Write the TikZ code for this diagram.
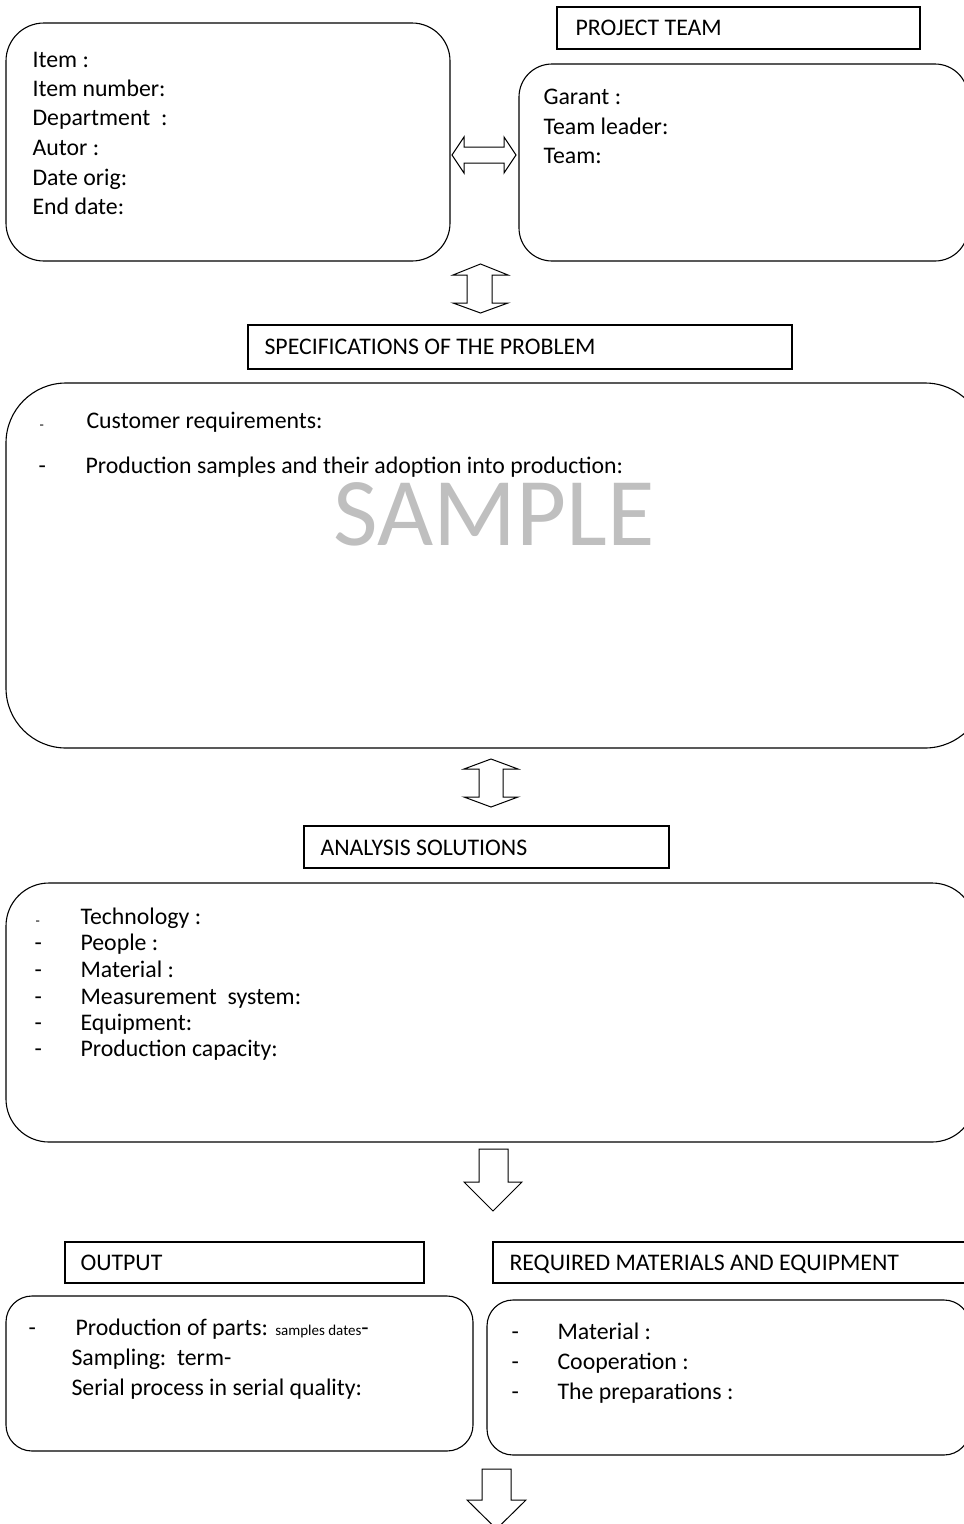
\documentclass[tikz,border=0pt]{standalone}
\usepackage{fontspec}
\setmainfont{Carlito}
\begin{document}
\begin{tikzpicture}[x=1pt,y=-1pt,
  line width=1.1pt,
  hbox/.style={draw, rectangle, inner sep=0pt},
  rbox/.style={draw, rectangle, inner sep=0pt},
  txt/.style={anchor=west, inner sep=0pt, yshift=-4.5pt, font=\fontsize{23.8}{28}\selectfont, text height=0.8em, text depth=0.2em},
  sdash/.style={anchor=west, inner sep=0pt, yshift=-4.5pt, font=\fontsize{14}{16}\selectfont, text height=0.8em, text depth=0.2em},
  blk/.style={draw, fill=white, line width=1pt, line join=miter}
]
\useasboundingbox (0,0) rectangle (964,1524);
\clip (0,0) rectangle (964,1524);

% ---------- row 1 ----------
\node[hbox, minimum width=363pt, minimum height=42pt] (pt) at (738.5,28) {};
\node[txt] (ptt) at (575,28) {PROJECT TEAM};

\node[rbox, rounded corners=38pt, minimum width=444pt, minimum height=238pt] (info) at (228,142) {};
\node[txt] (i1) at (32,60) {Item :};
\node[txt] (i2) at (32,89) {Item number:};
\node[txt] (i3) at (32,118) {Department\ \ :};
\node[txt] (i4) at (32,148) {Autor :};
\node[txt] (i5) at (32,178) {Date orig:};
\node[txt] (i6) at (32,207) {End date:};

\node[rbox, rounded corners=33pt, minimum width=449pt, minimum height=197pt] (team) at (743.5,162.5) {};
\node[txt] (t1) at (543,97) {Garant :};
\node[txt] (t2) at (543,127) {Team leader:};
\node[txt] (t3) at (543,156) {Team:};

% horizontal double block arrow
\draw[blk] (452,155) -- (464,137) -- (464,147) -- (504,147) -- (504,137) -- (516,155)
  -- (504,173) -- (504,163) -- (464,163) -- (464,173) -- cycle;
% vertical double block arrow 1
\draw[blk] (480.5,264) -- (508,275) -- (492,275) -- (492,303) -- (508,303) -- (480.5,313)
  -- (453,303) -- (467,303) -- (467,275) -- (453,275) -- cycle;

% ---------- specifications ----------
\node[hbox, minimum width=544pt, minimum height=44pt] (spec) at (520,347) {};
\node[txt] (spect) at (264,347) {SPECIFICATIONS OF THE PROBLEM};

\node[rbox, rounded corners=60pt, minimum width=979pt, minimum height=365pt] (specbody) at (495.5,565.5) {};
\node[sdash] (sd1) at (39,422) {-};
\node[txt] (s1) at (86,421) {Customer requirements:};
\node[txt] (sd2) at (38,466) {-};
\node[txt] (s2) at (85,466) {Production samples and their adoption into production:};
\node[inner sep=0pt, font=\fontsize{97}{104}\selectfont, text=black!25, text height=62.5pt, text depth=0pt] (wm) at (494,514) {SAMPLE};

% vertical double block arrow 2
\draw[blk] (491,759) -- (518,769) -- (503,769) -- (503,797) -- (518,797) -- (491,807)
  -- (464,797) -- (479,797) -- (479,769) -- (464,769) -- cycle;

% ---------- analysis ----------
\node[hbox, minimum width=365pt, minimum height=42pt] (an) at (486.5,847) {};
\node[txt] (ant) at (320,848) {ANALYSIS SOLUTIONS};

\node[rbox, rounded corners=43pt, minimum width=969pt, minimum height=259pt] (anbody) at (490.5,1012.5) {};
\node[sdash] (ad1) at (35,918) {-};
\node[txt] (a1) at (80,917) {Technology :};
\node[txt] (ad2) at (34,943) {-};
\node[txt] (a2) at (80,943) {People :};
\node[txt] (ad3) at (34,970) {-};
\node[txt] (a3) at (80,970) {Material :};
\node[txt] (ad4) at (34,997) {-};
\node[txt] (a4) at (80,997) {Measurement\ \ system:};
\node[txt] (ad5) at (34,1023) {-};
\node[txt] (a5) at (80,1023) {Equipment:};
\node[txt] (ad6) at (34,1049) {-};
\node[txt] (a6) at (80,1049) {Production capacity:};

% down block arrow 1
\draw[blk] (479,1149) -- (508,1149) -- (508,1182) -- (522,1182) -- (493,1211)
  -- (464,1182) -- (479,1182) -- cycle;

% ---------- output / required ----------
\node[hbox, minimum width=359pt, minimum height=41pt] (out) at (244.5,1262.5) {};
\node[txt] (outt) at (80,1263) {OUTPUT};
\node[hbox, minimum width=482pt, minimum height=41pt] (req) at (734,1262.5) {};
\node[txt] (reqt) at (509,1263) {REQUIRED MATERIALS AND EQUIPMENT};

\node[rbox, rounded corners=26pt, minimum width=467pt, minimum height=155pt] (outbody) at (239.5,1373.5) {};
\node[txt] (od1) at (28,1328) {-};
\node[txt] (o1) at (75,1328) {Production of parts: {\fontsize{15}{17}\selectfont samples dates}-};
\node[txt] (o2) at (71,1358) {Sampling:\ \ term-};
\node[txt] (o3) at (71,1388) {Serial process in serial quality:};

\node[rbox, rounded corners=26pt, minimum width=483pt, minimum height=155pt] (reqbody) at (728.5,1377.5) {};
\node[txt] (rd1) at (511,1332) {-};
\node[txt] (r1) at (557,1332) {Material :};
\node[txt] (rd2) at (511,1362) {-};
\node[txt] (r2) at (557,1362) {Cooperation :};
\node[txt] (rd3) at (511,1392) {-};
\node[txt] (r3) at (557,1392) {The preparations :};

% down block arrow 2
\draw[blk] (482,1469) -- (511,1469) -- (511,1500) -- (526,1500) -- (496.5,1529)
  -- (467,1500) -- (482,1500) -- cycle;
\end{tikzpicture}
\end{document}
